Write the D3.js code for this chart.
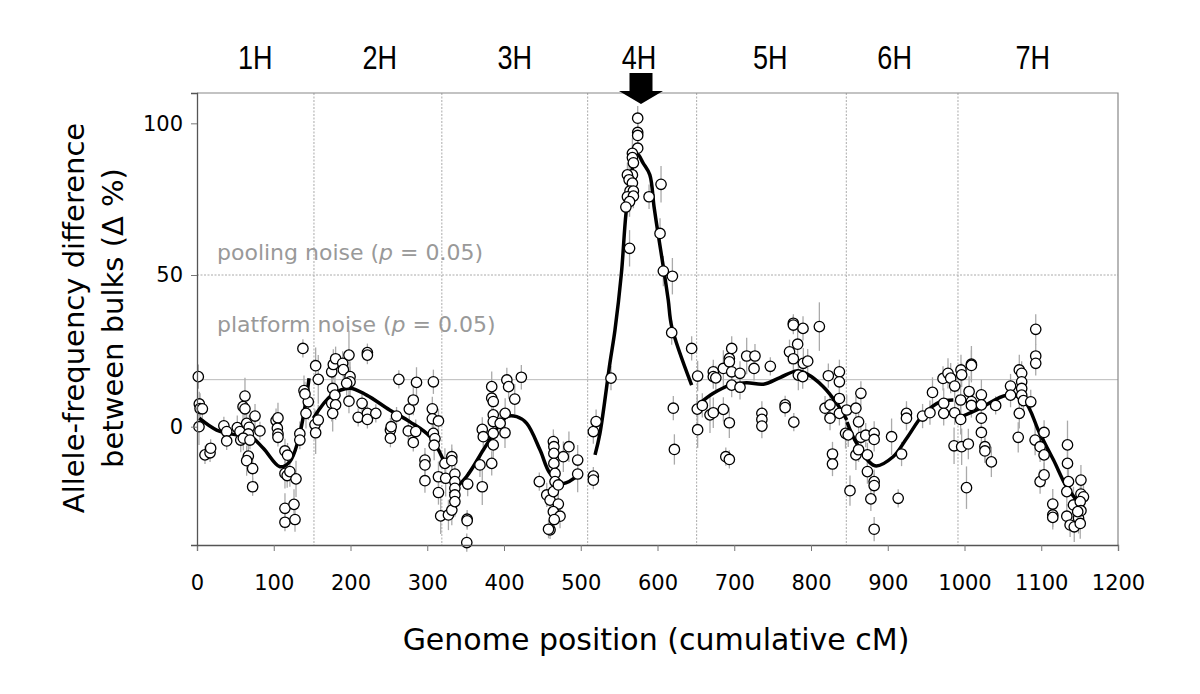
<!DOCTYPE html>
<html>
<head>
<meta charset="utf-8">
<script src="https://cdn.jsdelivr.net/npm/d3@7"></script>
<style>
body { margin: 0; background: #fff; }
</style>
</head>
<body>
<div id="chart"></div>
<script>
var chromLabels = ["1H", "2H", "3H", "4H", "5H", "6H", "7H"];
var chromLabelPos = [76, 238, 414, 576, 747, 909, 1089];
var chromBounds = [152.4, 319, 509, 651, 846, 991.5];
var qtlPos = 578.5;
var poolingNoise = 50, platformNoise = 15.5;
var xTicks = [0, 100, 200, 300, 400, 500, 600, 700, 800, 900, 1000, 1100, 1200];
var yTicks = [0, 50, 100];

// [cM, delta %, error]
var pts1H = [[1.7,16.5,4],[3,7.5,4],[4,6,5],[7,5.9,3],[2.6,0,6],[10.4,-9.3,3],[17,-8.6,3],[17.8,-7.1,3],[35,0.3,3],[38.7,-1.6,3],[38.7,-4.7,3],[52.5,-0.3,4],[56,-1.6,3],[57,-4.4,4],[60,6.6,5],[62.5,10.1,6],[62.5,5.9,4],[64.7,1.1,5],[68,-0.2,4],[66.9,-2.4,3],[60.4,-3.8,4],[69,-4.4,3],[66.9,-9.7,4],[64.7,-11.2,5],[72.5,-13.8,4],[72.5,-19.8,3],[75.6,3.5,4],[82,-1.4,3],[103,2,4],[105.5,2.9,5],[104.7,-0.5,3],[105.5,-2.4,3],[105.5,-3.5,3],[114.6,-8,4],[118,-9.4,4],[114.6,-15.4,5],[117.5,-16.1,4],[121,-14.8,5],[129,-17.2,6],[114.6,-26.9,5],[114.6,-31.5,3],[126.4,-25.6,5],[127.7,-30.6,4],[134,-2.3,4],[134,-4.4,3],[142,4.4,5],[145,8.2,6],[139.4,11.9,5],[140.7,10.8,4],[138,25.8,3]];
var pts2H = [[154.6,20.1,6],[158,15.6,8],[153.7,0.7,5],[154.6,-2,7],[158,2.2,5],[175.5,7.7,6],[176.8,12.6,5],[175.5,18.1,4],[177.6,20.5,5],[180.6,22.4,4],[179.7,10.4,7],[180.6,7.2,5],[176.8,4.4,6],[189.8,20.9,4],[190.7,18.8,4],[198,23.6,8],[199.4,16.5,5],[199.4,14.8,5],[195,14.3,4],[198,8.4,4],[210,3.1,3],[215,7.7,4],[222,4.4,4],[222,2.4,3],[222,24.4,3],[222,23.6,3],[233,4.4,3],[260,3.5,3],[263,15.6,3],[252,-1.1,4],[252,-3.8,3],[253,0,3],[276.6,5.8,4],[281.8,8.8,5],[275.3,-1.4,3],[285,-1.6,4],[281.8,-5.2,3],[286,14.6,5],[297,-11,4],[297,-12.6,4],[297,-17.8,4],[306.6,5.9,4],[306.6,2.6,4],[308,14.8,4],[308,-2.2,4],[310,-3.9,4],[309,-6.1,5],[314.6,1.9,4],[314.6,-16.5,5],[314.6,-21.7,4]];
var pts3H = [[317.5,-29.4,6],[323,-12.1,5],[324,-17,6],[327.6,-29.1,5],[332,-27.5,5],[332,-9.9,4],[332,-11.2,4],[336,-15.6,5],[336,-18.1,4],[336,-20.3,4],[336,-22.5,4],[336,-24.7,5],[352.7,-18.9,4],[352,-30.5,3],[352,-31,3],[351.5,-38.2,3],[368.7,-12.6,4],[371.7,-19.8,6],[371.7,-0.9,4],[373,-3.3,4],[384,13.2,5],[384,9.4,4],[386,8.3,5],[386,3.9,5],[386,1.7,4],[386,-2.2,4],[386,-6,5],[384,-12.1,4],[395,1.1,4],[401.5,4.4,5],[403.7,15.4,4],[406,13.2,4],[414,9.1,5],[422.6,16.3,4],[401.3,-2,5],[446,-18.1,3],[455.7,-22.5,4],[460,-24.2,4],[460,-34,3],[458,-33.8,3],[464.3,-4.9,4],[465,-6.6,4],[465,-8.8,4],[465,-12.1,4],[466.5,-15.4,4],[466.5,-18.1,4],[464.3,-21.4,4],[470.8,-19.2,5],[470.8,-25.5,5],[464.3,-28,4],[473,-29.5,4],[465.5,-30.6,4],[477.3,-9.9,5],[484.6,-6.6,5],[496,-11,5],[496,-15.6,6]];
var pts4H = [[516.4,-1.6,4],[520,1.7,4],[516.4,-16.3,3],[516.4,-17.6,3],[539.4,16,4],[574.2,101.7,4],[574.2,97,4],[574.2,96,4],[574.2,91.8,5],[567.3,90.1,5],[567.3,88.7,4],[568.6,87,4],[567.3,83,5],[560.8,83,4],[563,81.4,5],[567.3,80.3,4],[564.2,77.7,5],[568.6,77.7,4],[560.8,75.8,5],[568.6,76,4],[563.6,74.2,5],[558.8,72.4,4],[563.6,58.8,6],[604.6,79.9,6],[589,75.8,4],[603.3,63.7,5],[607.6,51.3,5],[619.4,49.6,6],[618.5,31,4],[620.6,6.1,4],[622,-7.5,5],[644.5,25.8,4],[652.3,16.7,5],[651.8,5.8,5],[652.3,-1,6]];
var pts5H = [[658.4,7,4],[668.4,3.9,6],[672.7,18.1,4],[672.7,16.5,4],[676,16.1,4],[672.7,4.6,5],[685.8,5.7,4],[685.8,19.2,6],[693.6,22.5,4],[693.6,21.4,4],[696.7,25.8,4],[696.7,18.1,5],[693.6,1.3,5],[696.7,13.7,4],[707.5,17.6,4],[707.5,13,4],[689,-9.9,3],[693.6,-10.8,3],[716.2,23.3,6],[727,23.3,4],[725.8,19.2,4],[736,4.4,4],[736,2.4,4],[736,0.2,4],[747,19.9,3],[766.3,7.2,3],[766.3,6.3,3],[772,24.7,4],[777,34.1,3],[777,33.5,3],[789.6,32.4,4],[777,22.4,5],[782.6,27.2,5],[777.6,1.5,3],[783.5,17,5],[789.2,16.5,4],[790,20.9,5],[795.7,21.6,4],[810.9,33,8],[822.6,16.8,4],[818.3,6.1,4],[824.8,7.2,4],[824.8,2.8,4],[837,18.1,4],[837,14.8,4],[837,9.3,4],[837,4.4,4],[828,-9,4],[828,-12.3,4]];
var pts6H = [[850.8,-21.1,5],[846.5,5.5,5],[845,-2.2,5],[848.5,-2.7,4],[858.5,6.1,4],[858.5,-9.3,5],[862,1.6,4],[865,11,4],[862,-7.6,4],[865,-3.5,4],[871.3,-2.8,4],[873.5,-9.3,4],[882.3,-2.2,4],[882.3,-4.2,4],[873.5,-14.8,4],[882.3,-18.1,4],[882.3,-19.4,4],[878,-23.8,4],[882.3,-33.8,4],[905,-3.3,6],[918,-9,4],[913.6,-23.6,3],[924.4,4.4,4],[924.4,2.8,4],[945.4,3.5,4],[955,4.6,4],[958.3,11.3,5],[972,15.9,4],[978.5,17.6,5],[982,16,5],[987.2,13.4,4],[972.9,7.7,5],[972.9,4.4,4],[987.2,4.6,4]];
var pts7H = [[995.4,18.7,5],[996.3,17.1,4],[995,8.8,5],[995,2.4,5],[986.4,-6.3,6],[996.3,-6.6,6],[1005,-5.7,5],[1002.6,-20.1,7],[1006,11.6,5],[1009,20.6,6],[1009,20.2,5],[1009,8.3,4],[1009,7,4],[1022,10.5,5],[1022,7.2,4],[1022,2.8,5],[1022,-1.9,6],[1026.6,-6.6,5],[1026.6,-8,4],[1035,-11.6,5],[1040.6,7,3],[1060,13.4,4],[1060,10.4,4],[1071.4,18.7,5],[1074.5,17.6,4],[1074.5,14.8,4],[1074.5,12.6,4],[1074.5,10.4,4],[1071.4,4.4,5],[1070,-3.5,5],[1076.8,8.6,4],[1086.3,8.2,4],[1092.8,32.1,5],[1092.8,23.3,4],[1092.8,20.9,4],[1092,-4.4,5],[1098.5,-6.6,5],[1103.7,-1.9,4],[1103.7,-9.3,5],[1098.5,-18.1,4],[1103.7,-15.9,4],[1115,-25.5,5],[1115,-29.1,4],[1115,-29.9,4],[1134.2,-6,8],[1134.2,-12.1,6],[1135.5,-18.1,5],[1133.3,-21.4,5],[1133.3,-29.5,4],[1137.6,-32.4,4],[1142,-25.8,6],[1143,-33,5],[1148.6,-30.2,5],[1150.8,-31.9,5],[1151.7,-17.6,5],[1151.7,-22.2,5],[1155,-23.1,4],[1150.8,-24.7,5],[1151.7,-27.7,5],[1147.5,-28,5]];

// smoothed trend per chromosome [cM, delta %]
var trend1H = [[3,2.8],[25.6,-1.1],[51.7,-2.7],[69,-3.1],[86.4,-7.1],[108,-13.2],[121,-11.5],[132,-4.4],[140.7,6.6],[146,16]];
var trend2H = [[151.6,2.8],[175.5,10.4],[199,12.7],[221,10.4],[251,5.5],[277.5,1.6],[303.6,-3.3],[321,-11]];
var trend3H = [[329.6,-22],[351,-16.5],[373,-7.7],[384,-3.3],[403.5,3.3],[416.6,3.3],[429.6,1.1],[447,-7.7],[460,-15.4],[477,-18.7],[496.8,-15.9]];
var trend4H = [[518.6,-9.3],[525,-2.2],[538,21],[544.6,31.9],[553,50.6],[559,70.4],[566,83.5],[573,90.1],[581.5,86.8],[590,83],[595.5,72.5],[602,61.6],[607.5,52.8],[614,41.8],[618.5,33],[644.5,13.7]];
var trend5H = [[657.6,8.2],[672.7,11],[694.5,13.7],[716,14.5],[738,14],[759.6,16.2],[781.4,18.4],[794.5,17.4],[816,13.2],[833.5,7.7],[846.6,2.2]];
var trend6H = [[847,1.5],[859.5,-5.5],[883.4,-12.9],[907,-9.9],[924.7,-3.8],[946,3.9],[968,8.2],[985.5,8.8]];
var trend7H = [[996,3.3],[1020,6],[1055,10.4],[1077,8.8],[1098,-2.2],[1116,-11],[1133,-19.8],[1150,-25.3]];

var points = [].concat(pts1H, pts2H, pts3H, pts4H, pts5H, pts6H, pts7H);
var trends = [trend1H, trend2H, trend3H, trend4H, trend5H, trend6H, trend7H];

var W = 1200, H = 694;
var font = "'DejaVu Sans', Verdana, sans-serif";

var svg = d3.select("#chart").append("svg")
  .attr("width", W).attr("height", H);

var x = d3.scaleLinear().domain([0, 1200]).range([197, 1118]);
var y = d3.scaleLinear().domain([-39, 110]).range([545, 93]);

// chromosome boundaries
svg.append("g").selectAll("line").data(chromBounds).enter()
  .append("line")
  .attr("x1", d => x(d)).attr("x2", d => x(d))
  .attr("y1", y(110)).attr("y2", y(-39))
  .attr("stroke", "#aaa").attr("stroke-width", 1)
  .attr("stroke-dasharray", "2,1.5");

// noise thresholds
svg.append("line")
  .attr("x1", x(0)).attr("x2", x(1200))
  .attr("y1", y(poolingNoise)).attr("y2", y(poolingNoise))
  .attr("stroke", "#aaa").attr("stroke-dasharray", "2,1.5");
svg.append("line")
  .attr("x1", x(0)).attr("x2", x(1200))
  .attr("y1", y(platformNoise)).attr("y2", y(platformNoise))
  .attr("stroke", "#bbb");

// frame top / right
svg.append("path")
  .attr("d", "M" + x(0) + "," + y(110) + "H" + x(1200) + "V" + y(-39))
  .attr("fill", "none").attr("stroke", "#888").attr("stroke-width", 1.2);

var noiseText = [["pooling noise (", poolingNoise, -15], ["platform noise (", platformNoise, -48]];
noiseText.forEach(function(t) {
  var tx = svg.append("text")
    .attr("x", x(0) + 20).attr("y", y(t[1]) + t[2])
    .attr("font-family", font).attr("font-size", "22px").attr("fill", "#999");
  tx.append("tspan").text(t[0]);
  tx.append("tspan").attr("font-style", "italic").text("p");
  tx.append("tspan").text(" = 0.05)");
});

// error bars
svg.append("g").selectAll("line").data(points).enter()
  .append("line")
  .attr("x1", d => x(d[0])).attr("x2", d => x(d[0]))
  .attr("y1", d => y(d[1] - d[2])).attr("y2", d => y(d[1] + d[2]))
  .attr("stroke", "#aaa").attr("stroke-width", 1.3);

// trend lines
var line = d3.line()
  .x(d => x(d[0])).y(d => y(d[1]))
  .curve(d3.curveCatmullRom.alpha(0.5));
svg.append("g").selectAll("path").data(trends).enter()
  .append("path")
  .attr("d", line)
  .attr("fill", "none").attr("stroke", "#000")
  .attr("stroke-width", 3.5).attr("stroke-linejoin", "round");

// markers
svg.append("g").selectAll("circle").data(points).enter()
  .append("circle")
  .attr("cx", d => x(d[0])).attr("cy", d => y(d[1]))
  .attr("r", 5.2)
  .attr("fill", "#fff").attr("stroke", "#000").attr("stroke-width", 1.3);

// x axis
var xMinor = d3.range(0, 1201, 10);
var xg = svg.append("g").attr("transform", "translate(0," + y(-39) + ")");
xg.call(d3.axisBottom(x).tickValues(xMinor).tickSize(-4).tickFormat(""));
xg.call(d3.axisBottom(x).tickValues(xTicks).tickSize(6).tickPadding(24).tickFormat(d3.format("d")));
xg.selectAll("path.domain").attr("stroke", "#555").attr("stroke-width", 1.3);
xg.selectAll("line").attr("stroke", "#777");
xg.selectAll("text").attr("font-family", font).attr("font-size", "21px").attr("fill", "#000");

// y axis
var yMinor = d3.range(-30, 111, 10);
var yg = svg.append("g").attr("transform", "translate(" + x(0) + ",0)");
yg.call(d3.axisLeft(y).tickValues(yMinor).tickSize(4).tickFormat(""));
yg.call(d3.axisLeft(y).tickValues(yTicks).tickSize(6).tickPadding(8));
yg.selectAll("path.domain").attr("stroke", "#555").attr("stroke-width", 1.3);
yg.selectAll("line").attr("stroke", "#777");
yg.selectAll("text").attr("font-family", font).attr("font-size", "21px").attr("fill", "#000");

// chromosome labels (condensed look)
svg.append("g").selectAll("text").data(chromLabels).enter()
  .append("text")
  .attr("transform", (d, i) => "translate(" + x(chromLabelPos[i]) + ",69) scale(0.82,1)")
  .attr("text-anchor", "middle")
  .attr("font-family", "'Liberation Sans Narrow', 'Arial Narrow', sans-serif")
  .attr("font-size", "33px").attr("fill", "#000")
  .text(d => d);

// QTL arrow
var ax = x(qtlPos);
svg.append("path")
  .attr("d", "M" + (ax - 11.5) + ",73H" + (ax + 11.5) + "V91H" + (ax + 22) +
    "L" + ax + ",104L" + (ax - 22) + ",91H" + (ax - 11.5) + "Z")
  .attr("fill", "#000");

// axis titles
var yt = svg.append("text")
  .attr("transform", "translate(84,318) rotate(-90)")
  .attr("text-anchor", "middle")
  .attr("font-family", font).attr("font-size", "29px").attr("fill", "#000");
yt.append("tspan").attr("x", 0).attr("y", 0).text("Allele-frequency difference");
yt.append("tspan").attr("x", 0).attr("y", 39).text("between bulks (\u0394 %)");

svg.append("text")
  .attr("x", 656).attr("y", 650)
  .attr("text-anchor", "middle")
  .attr("font-family", font).attr("font-size", "30px").attr("fill", "#000")
  .text("Genome position (cumulative cM)");
</script>
</body>
</html>
